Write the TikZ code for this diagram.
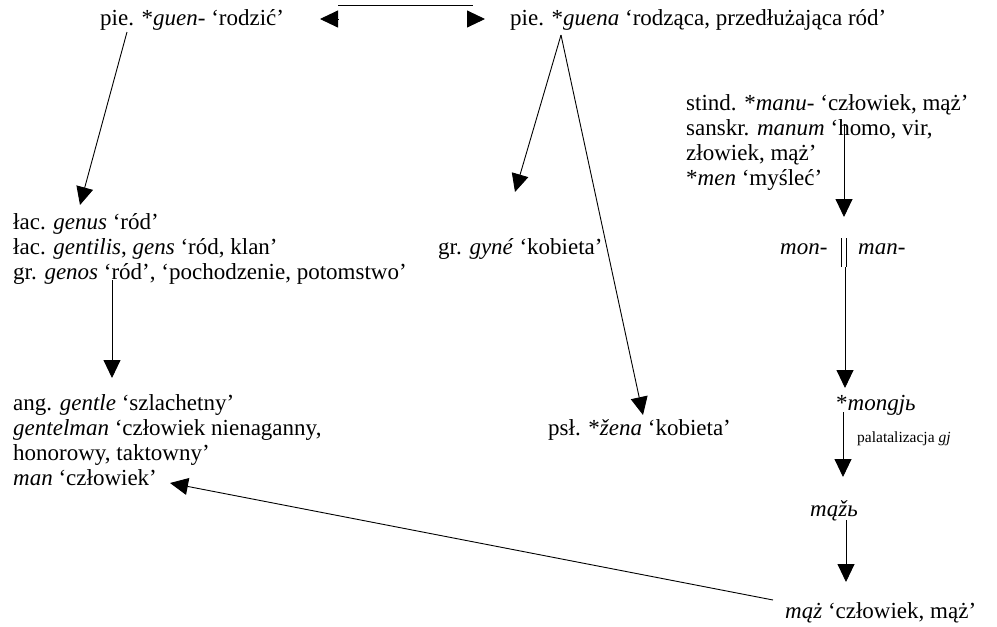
\documentclass[tikz,border=0pt]{standalone}
\usepackage{fontspec}
\setmainfont{Liberation Serif}
\usetikzlibrary{arrows.meta}
\begin{document}
\begin{tikzpicture}[x=1pt,y=1pt,
  lbl/.style={inner sep=0pt, anchor=base west, font=\fontsize{23}{25}\selectfont},
  smalllbl/.style={inner sep=0pt, anchor=base west, font=\fontsize{15.5}{18}\selectfont},
  conn/.style={line width=0.9pt, -{Triangle[width=17pt,length=18pt]}},
  plain/.style={line width=0.9pt}]
\useasboundingbox (0,0) rectangle (997,-627);
% texts
\node[lbl] (guen) at (100,-25) {pie. *\textit{guen}- ‘rodzić’};
\node[lbl] (guena) at (510,-25) {pie. *\textit{guena} ‘rodząca, przedłużająca ród’};
\node[lbl] (stind) at (686,-110) {stind. *\textit{manu}- ‘człowiek, mąż’};
\node[lbl] (sanskr) at (686,-135) {sanskr. \textit{manum} ‘homo, vir,};
\node[lbl] (zlow) at (686,-160) {złowiek, mąż’};
\node[lbl] (men) at (686,-185) {*\textit{men} ‘myśleć’};
\node[lbl] (genus) at (13,-229) {łac. \textit{genus} ‘ród’};
\node[lbl] (gentilis) at (13,-254) {łac. \textit{gentilis}, \textit{gens} ‘ród, klan’};
\node[lbl] (genos) at (13,-279) {gr. \textit{genos} ‘ród’, ‘pochodzenie, potomstwo’};
\node[lbl] (gyne) at (438,-254) {gr. \textit{gyné} ‘kobieta’};
\node[lbl] (mon) at (780,-254) {\textit{mon}-};
\node[lbl] (man) at (858,-254) {\textit{man}-};
\node[lbl] (gentle) at (13,-410) {ang. \textit{gentle} ‘szlachetny’};
\node[lbl] (gentelman) at (13,-435) {\textit{gentelman} ‘człowiek nienaganny,};
\node[lbl] (honor) at (13,-460) {honorowy, taktowny’};
\node[lbl] (manE) at (13,-485) {\textit{man} ‘człowiek’};
\node[lbl] (zena) at (548,-435) {psł. *\textit{žena} ‘kobieta’};
\node[lbl] (mongj) at (836,-410) {*\textit{mongjь}};
\node[smalllbl] (palat) at (857,-442) {palatalizacja \textit{gj}};
\node[lbl] (mazb) at (810,-516) {\textit{mąžь}};
\node[lbl] (maz) at (785,-618) {\textit{mąż} ‘człowiek, mąż’};
% connector points
\coordinate (bl) at (338,-5);
\coordinate (br) at (473,-5);
\coordinate (la1) at (338,-19);
\coordinate (la2) at (320,-19);
\coordinate (ra1) at (467,-19);
\coordinate (ra2) at (485,-19);
\coordinate (g1) at (127,-32);
\coordinate (g2) at (80,-205);
\coordinate (h1) at (561,-35);
\coordinate (h2) at (515,-192);
\coordinate (h3) at (643,-415);
\coordinate (m1) at (844,-124);
\coordinate (m2) at (844,-217);
\coordinate (b1) at (841,-238);
\coordinate (b2) at (841,-267);
\coordinate (b3) at (846,-238);
\coordinate (b4) at (846,-267);
\coordinate (n1) at (845,-267);
\coordinate (n2) at (845,-388);
\coordinate (p1) at (843,-412);
\coordinate (p2) at (843,-477);
\coordinate (q1) at (846,-520);
\coordinate (q2) at (846,-582);
\coordinate (s1) at (112,-280);
\coordinate (s2) at (112,-378);
\coordinate (t1) at (773,-600);
\coordinate (t2) at (170,-483);
% connectors
\draw[plain] (bl) -- (br);
\draw[conn] (la1) -- (la2);
\draw[conn] (ra1) -- (ra2);
\draw[conn] (g1) -- (g2);
\draw[conn] (h1) -- (h2);
\draw[conn] (h1) -- (h3);
\draw[conn] (m1) -- (m2);
\draw[plain] (b1) -- (b2);
\draw[plain] (b3) -- (b4);
\draw[conn] (n1) -- (n2);
\draw[conn] (p1) -- (p2);
\draw[conn] (q1) -- (q2);
\draw[conn] (s1) -- (s2);
\draw[conn] (t1) -- (t2);
\end{tikzpicture}
\end{document}
